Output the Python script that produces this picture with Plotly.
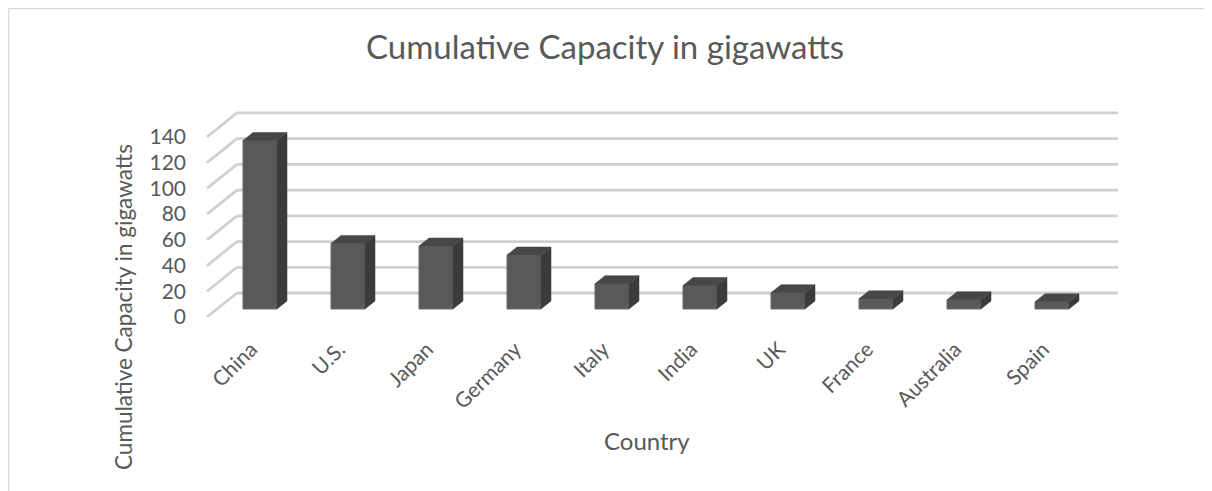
import plotly.graph_objects as go

countries = ["China", "U.S.", "Japan", "Germany", "Italy", "India", "UK", "France", "Australia", "Spain"]
capacity = [131, 51, 49, 42, 19.7, 18.3, 12.7, 8.0, 7.2, 5.6]
y_ticks = [0, 20, 40, 60, 80, 100, 120, 140]

FONT = "Lato"
TXT = "#595959"
FRONT = "#595959"
TOP = "#474747"
SIDE = "#3b3b3b"
GRID = "#d0d0d0"

# the page body adds an 8px margin, so work in screen pixels minus 8
OFF = 8
W, H = 1212 - OFF, 491 - OFF

def s(px):
    return px - OFF

PLOT_L, PLOT_R, PLOT_T, PLOT_B = s(190), s(1130), s(100), s(322)
ML, MR, MT, MB = PLOT_L, W - PLOT_R, PLOT_T, H - PLOT_B
pw, ph = PLOT_R - PLOT_L, PLOT_B - PLOT_T

PX_PER_CAT = 88.0
PX_PER_VAL = 1.286
X0_PX = s(260.0)        # centre of first category
BASE_PX = s(309.0)      # bar base

xr = [(PLOT_L - X0_PX) / PX_PER_CAT, (PLOT_R - X0_PX) / PX_PER_CAT]
yr = [(BASE_PX - PLOT_B) / PX_PER_VAL, (BASE_PX - PLOT_T) / PX_PER_VAL]

DX = 10 / PX_PER_CAT    # one depth step in x units
DY = 8 / PX_PER_VAL     # one depth step in y units
BW = 34 / PX_PER_CAT    # bar width
X_WALL_FRONT = (s(207) - X0_PX) / PX_PER_CAT
X_WALL_RIGHT = (s(1118) - X0_PX) / PX_PER_CAT

xs = list(range(len(countries)))

def px2paper_x(px):
    return (s(px) - PLOT_L) / pw

def px2paper_y(py):
    return (PLOT_B - s(py)) / ph

fig = go.Figure()

shapes = []
for t in y_ticks:
    shapes.append(dict(type="line", xref="x", yref="y", layer="below",
                       x0=X_WALL_FRONT, y0=t - DY, x1=X_WALL_FRONT + 3 * DX, y1=t + 2 * DY,
                       line=dict(color=GRID, width=2.8)))
    shapes.append(dict(type="line", xref="x", yref="y", layer="below",
                       x0=X_WALL_FRONT + 3 * DX, y0=t + 2 * DY, x1=X_WALL_RIGHT, y1=t + 2 * DY,
                       line=dict(color=GRID, width=2.8)))

# chart border (top and left)
shapes.append(dict(type="line", xref="paper", yref="paper", layer="below",
                   x0=px2paper_x(8.5), y0=px2paper_y(8.5), x1=px2paper_x(1212), y1=px2paper_y(8.5),
                   line=dict(color="#d9d9d9", width=1.5)))
shapes.append(dict(type="line", xref="paper", yref="paper", layer="below",
                   x0=px2paper_x(8.5), y0=px2paper_y(8.5), x1=px2paper_x(8.5), y1=px2paper_y(491),
                   line=dict(color="#d9d9d9", width=1.5)))

# front faces
fig.add_trace(go.Bar(x=xs, y=capacity, width=BW,
                     marker=dict(color=FRONT, line=dict(color="#6b6b6b", width=1)),
                     hoverinfo="x+y", showlegend=False))

# side and top faces
for x, v in zip(xs, capacity):
    r = x + BW / 2
    l = x - BW / 2
    fig.add_trace(go.Scatter(x=[r, r + DX, r + DX, r, r], y=[0, DY, v + DY, v, 0],
                             fill="toself", fillcolor=SIDE, mode="lines", line=dict(color=SIDE, width=0.5),
                             hoverinfo="skip", showlegend=False))
    fig.add_trace(go.Scatter(x=[l, r, r + DX, l + DX, l], y=[v, v, v + DY, v + DY, v],
                             fill="toself", fillcolor=TOP, mode="lines", line=dict(color=TOP, width=0.5),
                             hoverinfo="skip", showlegend=False))

fig.update_layout(
    width=W, height=H,
    margin=dict(l=ML, r=MR, t=MT, b=MB, autoexpand=False),
    paper_bgcolor="white", plot_bgcolor="white",
    font=dict(family=FONT, color=TXT, size=21),
    title=dict(text="Cumulative Capacity in gigawatts", xref="container", yref="container",
               x=s(605) / W, y=1 - s(47) / H, xanchor="center", yanchor="middle",
               font=dict(family=FONT, size=33, color=TXT)),
    xaxis=dict(range=xr, tickmode="array", tickvals=[x - 0.1 for x in xs], ticktext=countries,
               tickangle=-45, showgrid=False, zeroline=False, showline=False, ticks="",
               ticklabelstandoff=10, fixedrange=True),
    yaxis=dict(range=yr, tickmode="array", tickvals=[t - DY for t in y_ticks],
               ticktext=[str(t) for t in y_ticks], showgrid=False, zeroline=False,
               showline=False, ticks="", ticklabelstandoff=3, fixedrange=True),
    shapes=shapes,
    annotations=[
        dict(text="Cumulative Capacity in gigawatts", xref="paper", yref="paper",
             x=px2paper_x(123), y=px2paper_y(307), textangle=-90, showarrow=False,
             xanchor="center", yanchor="middle", font=dict(family=FONT, size=22.5, color=TXT)),
        dict(text="Country", xref="paper", yref="paper",
             x=px2paper_x(647), y=px2paper_y(440), showarrow=False,
             xanchor="center", yanchor="middle", font=dict(family=FONT, size=24, color=TXT)),
    ],
)

fig.write_html("out.html")
